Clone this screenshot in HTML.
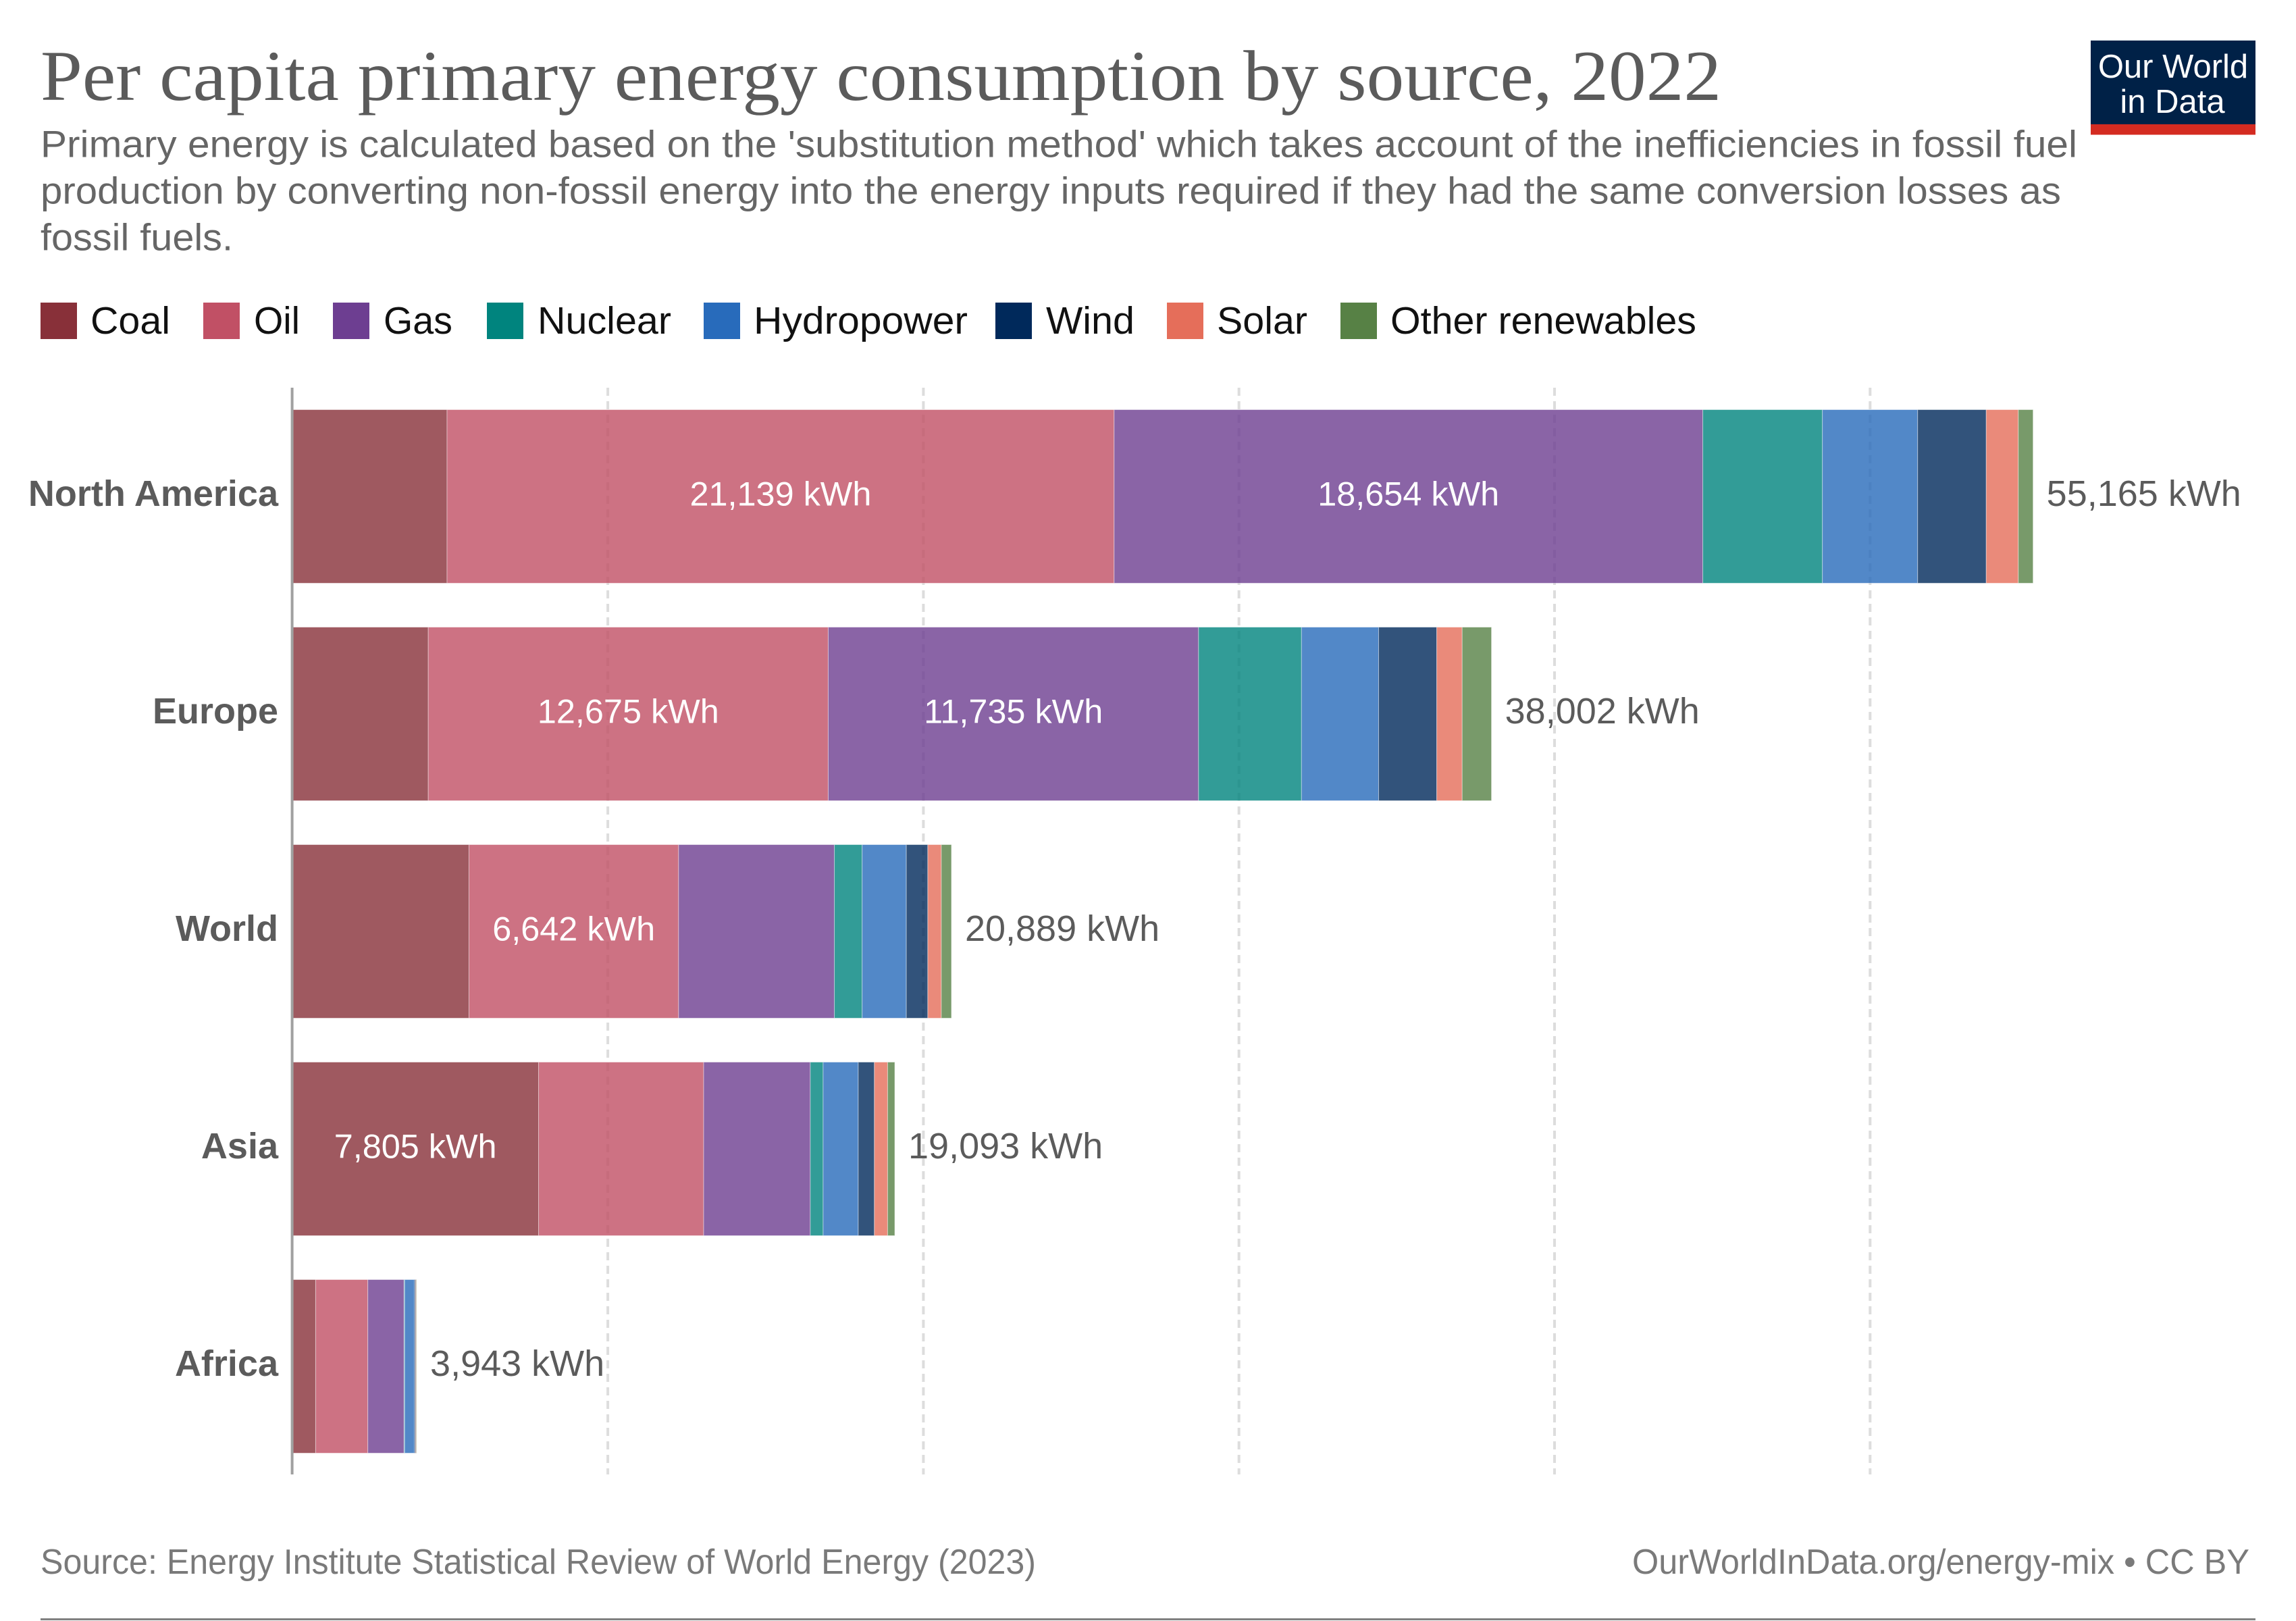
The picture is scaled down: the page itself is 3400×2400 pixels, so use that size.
<!DOCTYPE html>
<html lang="en">
<head>
<meta charset="utf-8">
<title>Per capita primary energy consumption by source, 2022</title>
<style>
  html, body { margin: 0; padding: 0; background: #fff; }
  svg { display: block; }
  text { font-family: "Liberation Sans", Arial, sans-serif; }
  .title { font-family: "Liberation Serif", Georgia, serif; font-size: 106px; fill: #5b5b5b; }
  .subtitle { font-size: 56px; fill: #666; }
  .legend-label { font-size: 57px; fill: #111; }
  .footer { font-size: 52px; fill: #7a7a7a; }
</style>
</head>
<body>
<svg id="chart" xmlns="http://www.w3.org/2000/svg" width="3400" height="2400" viewBox="0 0 3400 2400">
  <rect x="0" y="0" width="3400" height="2400" fill="#ffffff"/>

  <text class="title" x="60" y="148" textLength="2489" lengthAdjust="spacingAndGlyphs">Per capita primary energy consumption by source, 2022</text>

  <g>
    <text class="subtitle" x="60" y="232.5" textLength="3016" lengthAdjust="spacingAndGlyphs">Primary energy is calculated based on the 'substitution method' which takes account of the inefficiencies in fossil fuel</text>
    <text class="subtitle" x="60" y="301.5" textLength="2992" lengthAdjust="spacingAndGlyphs">production by converting non-fossil energy into the energy inputs required if they had the same conversion losses as</text>
    <text class="subtitle" x="60" y="370.5" textLength="285" lengthAdjust="spacingAndGlyphs">fossil fuels.</text>
  </g>

  <g>
    <rect x="3096" y="60" width="244" height="124" fill="#002147"/>
    <rect x="3096" y="184" width="244" height="15.5" fill="#d42b21"/>
    <text x="3218" y="115" font-size="49" fill="#ffffff" text-anchor="middle">Our World</text>
    <text x="3217" y="167" font-size="49" fill="#ffffff" text-anchor="middle">in Data</text>
  </g>

  <g>
    <g><rect x="60" y="448" width="54" height="54" fill="#883039"/><text class="legend-label" x="134" y="494" textLength="118" lengthAdjust="spacingAndGlyphs">Coal</text></g>
    <g><rect x="301" y="448" width="54" height="54" fill="#c15065"/><text class="legend-label" x="376" y="494" textLength="68" lengthAdjust="spacingAndGlyphs">Oil</text></g>
    <g><rect x="493" y="448" width="54" height="54" fill="#6d3e91"/><text class="legend-label" x="568" y="494" textLength="102" lengthAdjust="spacingAndGlyphs">Gas</text></g>
    <g><rect x="721" y="448" width="54" height="54" fill="#00847e"/><text class="legend-label" x="796" y="494" textLength="198" lengthAdjust="spacingAndGlyphs">Nuclear</text></g>
    <g><rect x="1042" y="448" width="54" height="54" fill="#286bbb"/><text class="legend-label" x="1116" y="494" textLength="317" lengthAdjust="spacingAndGlyphs">Hydropower</text></g>
    <g><rect x="1474" y="448" width="54" height="54" fill="#00295b"/><text class="legend-label" x="1549" y="494" textLength="131" lengthAdjust="spacingAndGlyphs">Wind</text></g>
    <g><rect x="1728" y="448" width="54" height="54" fill="#e56e5a"/><text class="legend-label" x="1802" y="494" textLength="134" lengthAdjust="spacingAndGlyphs">Solar</text></g>
    <g><rect x="1985" y="448" width="54" height="54" fill="#578145"/><text class="legend-label" x="2059" y="494" textLength="453" lengthAdjust="spacingAndGlyphs">Other renewables</text></g>
  </g>

  <g id="grid"></g>
  <g id="bars"></g>
  <g id="labels"></g>
  <line x1="432.6" x2="432.6" y1="574" y2="2183" stroke="#a0a0a0" stroke-width="4"/>

  <text class="footer" x="60" y="2330" textLength="1474" lengthAdjust="spacingAndGlyphs">Source: Energy Institute Statistical Review of World Energy (2023)</text>
  <text class="footer" x="2417" y="2330" textLength="914" lengthAdjust="spacingAndGlyphs">OurWorldInData.org/energy-mix • CC BY</text>
  <rect x="60" y="2396" width="3280" height="3" fill="#808080"/>
</svg>

<script>
// Chart data (kWh per person, 2022)
const categories = ["North America", "Europe", "World", "Asia", "Africa"];
const coal    = [4905, 4309, 5600, 7805, 741];
const oil     = [21139, 12675, 6642, 5232, 1653];
const gas     = [18654, 11735, 4937, 3379, 1148];
const nuclear = [3790, 3263, 880, 407, 20];
const hydro   = [3019, 2444, 1400, 1113, 310];
const wind    = [2173, 1842, 680, 510, 35];
const solar   = [1017, 805, 430, 420, 20];
const other   = [468, 929, 320, 227, 16];
const tickValues = [10000, 20000, 30000, 40000, 50000];
const seriesNames = ["coal", "oil", "gas", "nuclear", "hydropower", "wind", "solar", "other-renewables"];
const seriesColors = ["#883039", "#c15065", "#6d3e91", "#00847e", "#286bbb", "#00295b", "#e56e5a", "#578145"];
const seriesValues = [coal, oil, gas, nuclear, hydro, wind, solar, other];

const SVG_NS = "http://www.w3.org/2000/svg";
const PX_PER_KWH = 0.04673;
const X_ORIGIN = 432.8;
const ROW_TOP = 606.5;
const ROW_STEP = 322;
const BAR_HEIGHT = 257;
const INNER_LABEL_MIN_KWH = 6000;

function xScale(v) { return X_ORIGIN + v * PX_PER_KWH; }
function rowTop(i) { return ROW_TOP + i * ROW_STEP; }
function rowMid(i) { return rowTop(i) + BAR_HEIGHT / 2; }
function fmt(v) { return v.toLocaleString("en-US") + " kWh"; }
function slug(s) { return s.toLowerCase().replace(/\s+/g, "-"); }

const gridLayer = document.getElementById("grid");
const barLayer = document.getElementById("bars");
const labelLayer = document.getElementById("labels");

tickValues.forEach(function (t) {
  const line = document.createElementNS(SVG_NS, "line");
  
  
  line.setAttribute("x1", xScale(t));
  line.setAttribute("x2", xScale(t));
  line.setAttribute("y1", 574);
  line.setAttribute("y2", 2183);
  line.setAttribute("stroke", "#dddddd");
  line.setAttribute("stroke-width", 4);
  line.setAttribute("stroke-dasharray", "12 8");
  gridLayer.appendChild(line);
});

categories.forEach(function (cat, i) {
  const group = document.createElementNS(SVG_NS, "g");
  
  
  barLayer.appendChild(group);

  let cum = 0;
  seriesValues.forEach(function (arr, s) {
    const v = arr[i];
    const rect = document.createElementNS(SVG_NS, "rect");
    
    
    rect.setAttribute("x", xScale(cum));
    rect.setAttribute("y", rowTop(i));
    rect.setAttribute("width", v * PX_PER_KWH);
    rect.setAttribute("height", BAR_HEIGHT);
    rect.setAttribute("fill", seriesColors[s]);
    rect.setAttribute("stroke", "#ffffff");
    rect.setAttribute("stroke-width", 1);
    rect.setAttribute("stroke-opacity", 0.45);
    rect.setAttribute("opacity", 0.8);
    group.appendChild(rect);

    if (v >= INNER_LABEL_MIN_KWH) {
      const inner = document.createElementNS(SVG_NS, "text");
      
      
      inner.setAttribute("x", xScale(cum + v / 2));
      inner.setAttribute("y", rowMid(i) + 13.5);
      inner.setAttribute("text-anchor", "middle");
      inner.setAttribute("font-size", 50.4);
      inner.setAttribute("fill", "#ffffff");
      inner.textContent = fmt(v);
      labelLayer.appendChild(inner);
    }
    cum += v;
  });

  const catLabel = document.createElementNS(SVG_NS, "text");
  
  
  catLabel.setAttribute("x", 412);
  catLabel.setAttribute("y", rowMid(i) + 14);
  catLabel.setAttribute("text-anchor", "end");
  catLabel.setAttribute("font-size", 54);
  catLabel.setAttribute("font-weight", "bold");
  catLabel.setAttribute("fill", "#5b5b5b");
  catLabel.textContent = cat;
  labelLayer.appendChild(catLabel);

  const total = document.createElementNS(SVG_NS, "text");
  
  
  total.setAttribute("x", xScale(cum) + 20);
  total.setAttribute("y", rowMid(i) + 14);
  total.setAttribute("font-size", 54);
  total.setAttribute("fill", "#5b5b5b");
  total.textContent = fmt(cum);
  labelLayer.appendChild(total);
});
</script>
</body>
</html>
